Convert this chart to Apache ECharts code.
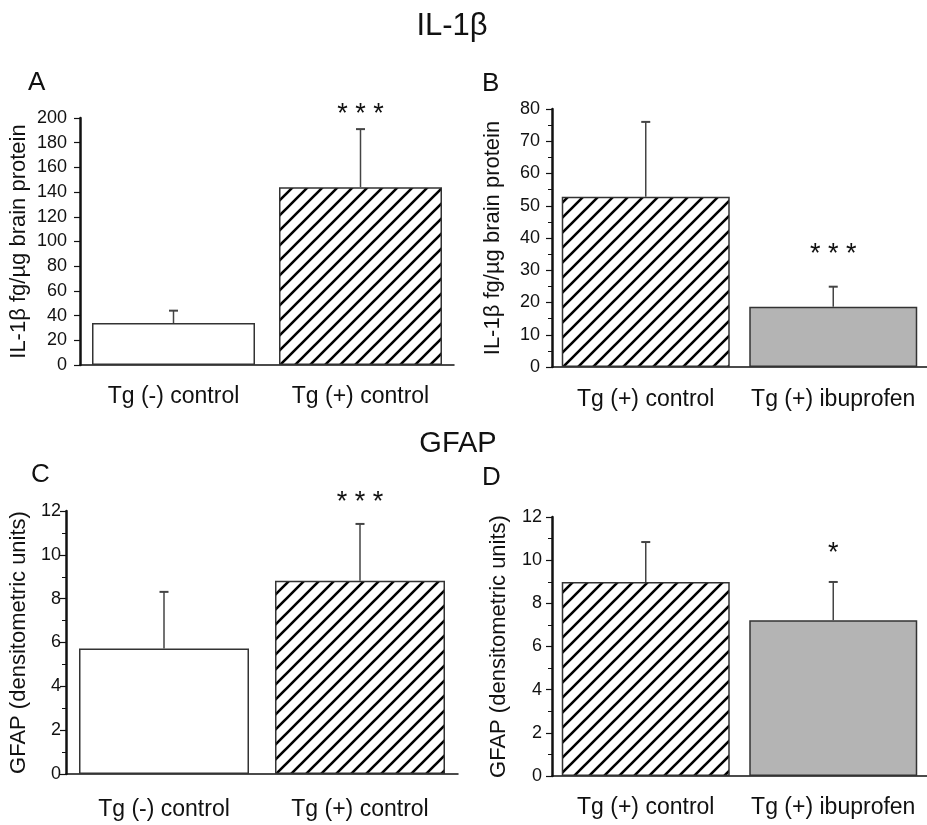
<!DOCTYPE html>
<html>
<head>
<meta charset="utf-8">
<script src="https://cdn.jsdelivr.net/npm/echarts@6/dist/echarts.min.js"></script>
<style>
html,body{margin:0;padding:0;background:#fff;}
#chart{width:927px;height:825px;}
</style>
</head>
<body>
<div id="chart"></div>
<script>
// ---------- DATA ----------
const catsA = ['Tg (-) control', 'Tg (+) control'];
const meanA = [34, 144];
const semA  = [10, 47];
const starsA = ['', '* * *'];

const catsB = ['Tg (+) control', 'Tg (+) ibuprofen'];
const meanB = [52.8, 18.7];
const semB  = [23.2, 6.2];
const starsB = ['', '* * *'];

const catsC = ['Tg (-) control', 'Tg (+) control'];
const meanC = [5.73, 8.82];
const semC  = [2.58, 2.59];
const starsC = ['', '* * *'];

const catsD = ['Tg (+) control', 'Tg (+) ibuprofen'];
const meanD = [8.99, 7.22];
const semD  = [1.85, 1.77];
const starsD = ['', '*'];

// fill kinds per bar: 'white', 'hatch', 'gray'
const fillA = ['white', 'hatch'];
const fillB = ['hatch', 'gray'];
const fillC = ['white', 'hatch'];
const fillD = ['hatch', 'gray'];

// ---------- STYLE ----------
const FONT = '"Liberation Sans", Arial, Helvetica, sans-serif';
const INK = '#111';

function makeHatch() {
  const s = 15;
  const c = document.createElement('canvas');
  c.width = s; c.height = s;
  const g = c.getContext('2d');
  g.fillStyle = '#fff';
  g.fillRect(0, 0, s, s);
  g.strokeStyle = '#000';
  g.lineWidth = 2.6;
  g.beginPath();
  g.moveTo(-2, s + 2); g.lineTo(s + 2, -2);
  g.moveTo(-2, 2); g.lineTo(2, -2);
  g.moveTo(s - 2, s + 2); g.lineTo(s + 2, s - 2);
  g.stroke();
  return c;
}
const hatch = makeHatch();
function fillColor(kind) {
  if (kind === 'hatch') return { image: hatch, repeat: 'repeat' };
  if (kind === 'gray') return '#b4b4b4';
  return '#ffffff';
}

const panels = [
  { cats: catsA, mean: meanA, sem: semA, stars: starsA, fill: fillA,
    grid: { left: 80, top: 118, width: 374, height: 247 },
    y: { min: 0, max: 200, interval: 20, minor: false, labelMargin: 13 },
    name: 'IL-1β fg/µg brain protein', nameGap: 50, xMargin: 20, barWidth: 163, starOff: 15 },
  { cats: catsB, mean: meanB, sem: semB, stars: starsB, fill: fillB,
    grid: { left: 552, top: 109, width: 382, height: 258 },
    y: { min: 0, max: 80, interval: 10, minor: true, labelMargin: 12 },
    name: 'IL-1β fg/µg brain protein', nameGap: 48, xMargin: 21, barWidth: 168, starOff: 32 },
  { cats: catsC, mean: meanC, sem: semC, stars: starsC, fill: fillC,
    grid: { left: 66, top: 511, width: 392, height: 263 },
    y: { min: 0, max: 12, interval: 2, minor: true, labelMargin: 5 },
    name: 'GFAP (densitometric units)', nameGap: 36, xMargin: 24, barWidth: 170, starOff: 21 },
  { cats: catsD, mean: meanD, sem: semD, stars: starsD, fill: fillD,
    grid: { left: 552, top: 517, width: 382, height: 259 },
    y: { min: 0, max: 12, interval: 2, minor: true, labelMargin: 10 },
    name: 'GFAP (densitometric units)', nameGap: 42, xMargin: 20, barWidth: 168, starOff: 28 }
];

const grids = [], xAxes = [], yAxes = [], series = [];
panels.forEach((p, i) => {
  grids.push(Object.assign({ containLabel: false }, p.grid));
  xAxes.push({
    type: 'category', gridIndex: i, data: p.cats,
    axisLine: { lineStyle: { color: INK, width: 1.5 } },
    axisTick: { alignWithLabel: true, length: 5, lineStyle: { color: '#444', width: 1 } },
    axisLabel: { color: INK, fontSize: 23, fontFamily: FONT, margin: p.xMargin, interval: 0 },
    splitLine: { show: false }
  });
  yAxes.push({
    type: 'value', gridIndex: i, min: p.y.min, max: p.y.max, interval: p.y.interval,
    name: p.name, nameLocation: 'middle', nameGap: p.nameGap, nameRotate: 90,
    nameTextStyle: { color: INK, fontSize: 22, fontFamily: FONT },
    axisLine: { show: true, lineStyle: { color: INK, width: 2.5 } },
    axisTick: { show: true, length: 6, lineStyle: { color: INK, width: 1.2 } },
    minorTick: { show: p.y.minor, splitNumber: 2, length: 4, lineStyle: { color: INK, width: 1 } },
    axisLabel: { color: INK, fontSize: 18, fontFamily: FONT, margin: p.y.labelMargin },
    splitLine: { show: false }
  });
  series.push({
    type: 'bar', xAxisIndex: i, yAxisIndex: i, barWidth: p.barWidth,
    data: p.mean.map((v, k) => ({
      value: v,
      itemStyle: { color: fillColor(p.fill[k]), borderColor: '#333', borderWidth: 1.5 }
    })),
    emphasis: { disabled: true }, silent: true, animation: false
  });
  series.push({
    type: 'custom', xAxisIndex: i, yAxisIndex: i, silent: true, animation: false, z: 5,
    data: p.mean.map((v, k) => [k, v, v + p.sem[k]]),
    renderItem: function (params, api) {
      const k = api.value(0);
      const base = api.coord([k, api.value(1)]);
      const top = api.coord([k, api.value(2)]);
      const star = p.stars[k];
      const children = [
        { type: 'line', shape: { x1: base[0], y1: base[1], x2: top[0], y2: top[1] },
          style: { stroke: '#444', lineWidth: 1.5 } },
        { type: 'line', shape: { x1: top[0] - 4.5, y1: top[1], x2: top[0] + 4.5, y2: top[1] },
          style: { stroke: '#444', lineWidth: 2 } }
      ];
      if (star) {
        children.push({ type: 'text', x: top[0], y: top[1] - p.starOff,
          style: { text: star, fontSize: 27, fontFamily: FONT, fill: INK,
                   align: 'center', verticalAlign: 'middle' } });
      }
      return { type: 'group', children: children };
    }
  });
});

const titleStyle = (size) => ({ color: INK, fontSize: size, fontWeight: 'normal', fontFamily: FONT });
const titles = [
  { text: 'IL-1β', left: 452, top: 11, textAlign: 'center', textStyle: titleStyle(31) },
  { text: 'GFAP', left: 458, top: 429, textAlign: 'center', textStyle: titleStyle(29) },
  { text: 'A', left: 28, top: 70, textStyle: titleStyle(26) },
  { text: 'B', left: 482, top: 71, textStyle: titleStyle(26) },
  { text: 'C', left: 31, top: 462, textStyle: titleStyle(26) },
  { text: 'D', left: 482, top: 465, textStyle: titleStyle(26) }
];

const chart = echarts.init(document.getElementById('chart'), null, { renderer: 'canvas' });
chart.setOption({
  backgroundColor: '#fff',
  animation: false,
  title: titles.map(t => Object.assign({ padding: 0 }, t)),
  grid: grids, xAxis: xAxes, yAxis: yAxes, series: series
});
</script>
</body>
</html>
